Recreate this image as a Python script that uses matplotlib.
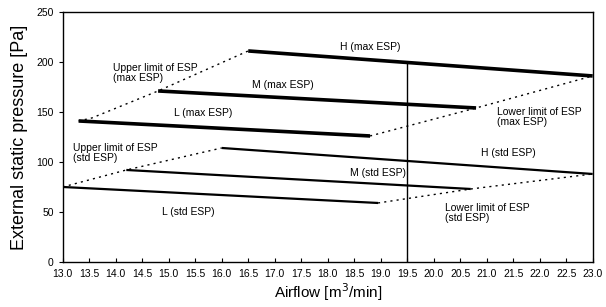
import matplotlib.pyplot as plt

plt.rcParams['font.family'] = ['Liberation Sans', 'DejaVu Sans']

# Fan curves: [airflow start, airflow end], [pressure start, pressure end]
h_max_x = [16.5, 23.0]
h_max_y = [211, 186]
m_max_x = [14.8, 20.8]
m_max_y = [171, 154]
l_max_x = [13.3, 18.8]
l_max_y = [141, 126]

h_std_x = [16.0, 23.0]
h_std_y = [114, 88]
m_std_x = [14.2, 20.7]
m_std_y = [92, 73]
l_std_x = [13.0, 18.95]
l_std_y = [75, 59]

# Limit lines (dotted)
upper_max_x = [13.3, 13.55, 14.8, 16.5]
upper_max_y = [141, 144, 171, 211]
lower_max_x = [18.8, 20.8, 23.0]
lower_max_y = [126, 154, 186]
upper_std_x = [13.0, 14.2, 16.0]
upper_std_y = [75, 92, 114]
lower_std_x = [18.95, 20.7, 23.0]
lower_std_y = [59, 73, 88]

# Vertical marker
marker_x = [19.5, 19.5]
marker_y = [0, 199.5]

fig = plt.figure(figsize=(6.06, 3.07), dpi=100)
ax = fig.add_axes([0.1035, 0.1466, 0.8745, 0.8145])

for xs, ys in [(h_max_x, h_max_y), (m_max_x, m_max_y), (l_max_x, l_max_y)]:
    ax.plot(xs, ys, color="black", linewidth=2.6, solid_capstyle="butt")
for xs, ys in [(h_std_x, h_std_y), (m_std_x, m_std_y), (l_std_x, l_std_y)]:
    ax.plot(xs, ys, color="black", linewidth=1.6, solid_capstyle="butt")
for xs, ys in [(upper_max_x, upper_max_y), (lower_max_x, lower_max_y),
               (upper_std_x, upper_std_y), (lower_std_x, lower_std_y)]:
    ax.plot(xs, ys, color="black", linewidth=1.0, linestyle=(0, (1.5, 3)))
ax.plot(marker_x, marker_y, color="black", linewidth=1.0)

# Labels
fs = 7.5
ax.text(13.95, 199, "Upper limit of ESP\n(max ESP)", fontsize=fs, va="top", linespacing=1.0)
ax.text(15.1, 149, "L (max ESP)", fontsize=fs, va="center")
ax.text(16.57, 177, "M (max ESP)", fontsize=fs, va="center")
ax.text(18.23, 215, "H (max ESP)", fontsize=fs, va="center")
ax.text(21.19, 155, "Lower limit of ESP\n(max ESP)", fontsize=fs, va="top", linespacing=1.0)
ax.text(20.89, 109, "H (std ESP)", fontsize=fs, va="center")
ax.text(13.19, 119, "Upper limit of ESP\n(std ESP)", fontsize=fs, va="top", linespacing=1.0)
ax.text(18.42, 89, "M (std ESP)", fontsize=fs, va="center")
ax.text(14.87, 50, "L (std ESP)", fontsize=fs, va="center")
ax.text(20.21, 59, "Lower limit of ESP\n(std ESP)", fontsize=fs, va="top", linespacing=1.0)

ax.set_xlim(13.0, 23.0)
ax.set_ylim(0, 250)
xt = [13.0 + 0.5 * i for i in range(21)]
ax.set_xticks(xt)
ax.set_xticklabels(["%.1f" % v for v in xt])
ax.set_yticks([0, 50, 100, 150, 200, 250])
ax.tick_params(axis="x", direction="in", length=3, labelsize=7.5, pad=5)
ax.tick_params(axis="y", direction="out", length=3, labelsize=7.5)
for s in ax.spines.values():
    s.set_linewidth(1.0)

ax.set_xlabel("Airflow [m$^3$/min]", fontsize=11, labelpad=2)
ax.set_ylabel("External static pressure [Pa]", fontsize=13, labelpad=6)

plt.savefig("out.png", dpi=100)
